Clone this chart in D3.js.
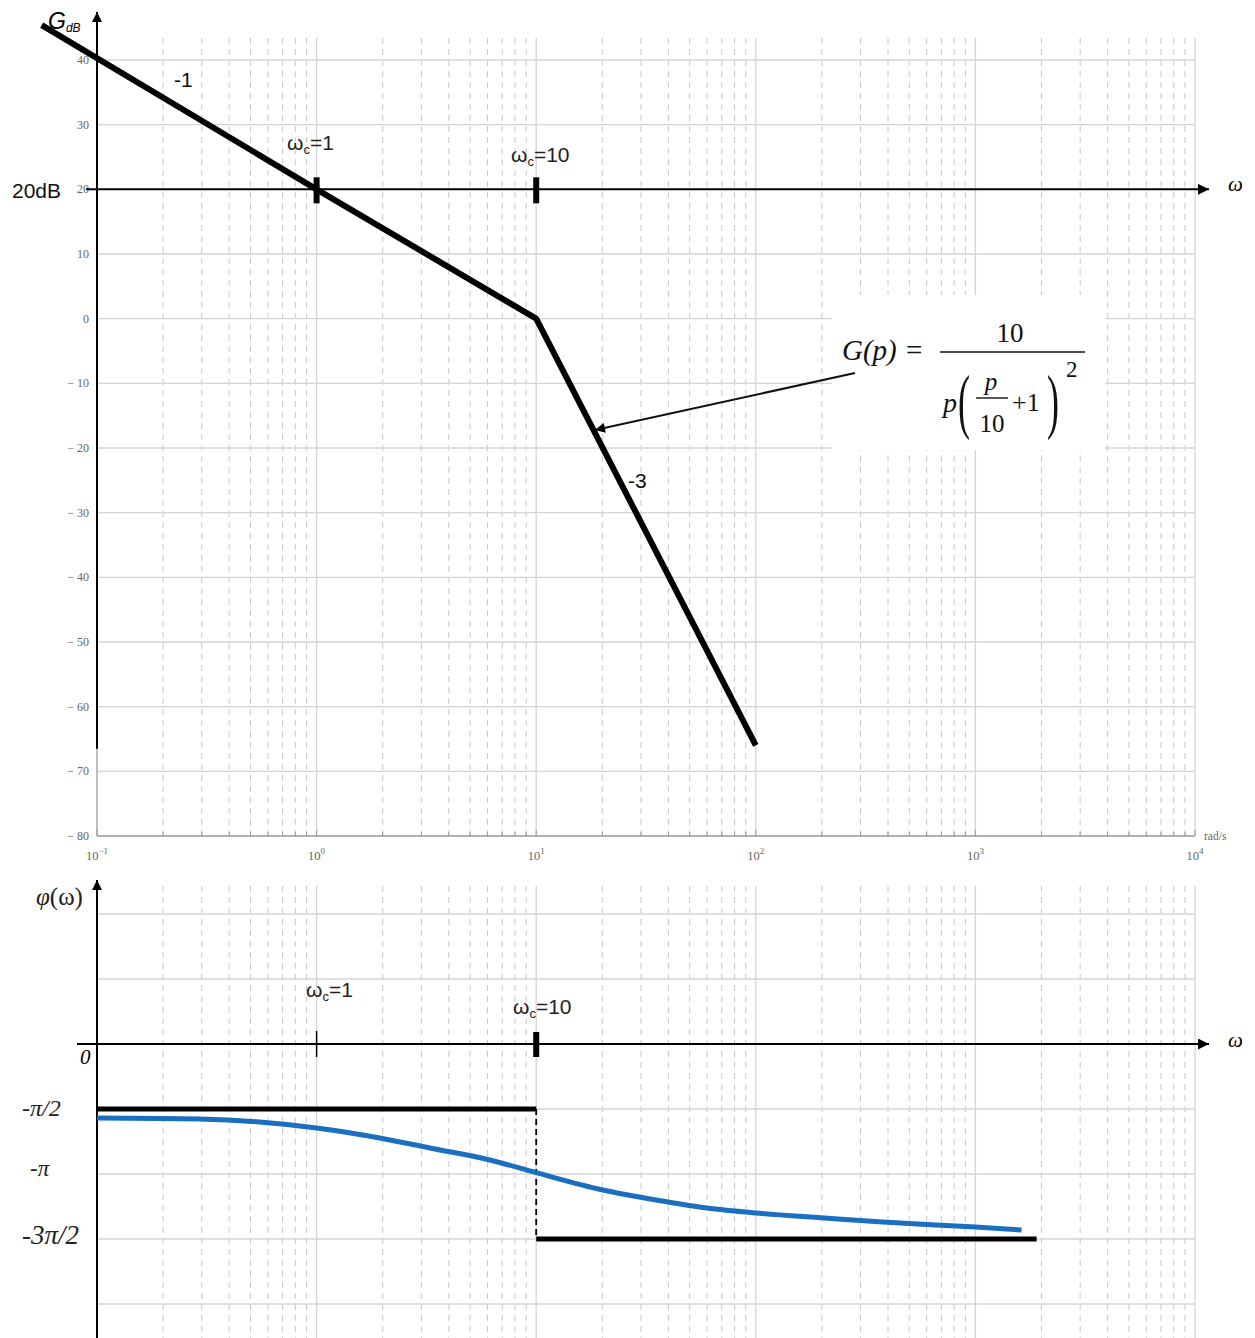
<!DOCTYPE html>
<html><head><meta charset="utf-8">
<script src="https://cdn.jsdelivr.net/npm/d3@7"></script>
<style>body{margin:0;background:#fff}svg{display:block}</style>
</head><body>
<script>
// ---- data ----
const magOmega = [0.056, 1, 10, 100];
const magDb = [45.4, 20, 0, -66];
const magTicks = [40, 30, 20, 10, 0, -10, -20, -30, -40, -50, -60, -70, -80];
const xTickExps = [-1, 0, 1, 2, 3, 4];
const cornerOmega = [1, 10];
const cornerLabels = ["1", "10"];
const slopeLabels = ["-1", "-3"];
const phaseTickVals = [-0.5, -1, -1.5];          // units of π
const phaseTickLabels = ["-π/2", "-π", "-3π/2"];
const phaseGrid = [1, 0.5, 0, -0.5, -1, -1.5, -2];
const asymOmegaHi = [0.1, 10];
const asymOmegaLo = [10, 1900];
const asymPhaseHi = -0.5;
const asymPhaseLo = -1.5;
const blueOmega = [0.1, 0.294, 0.55, 1, 1.94, 3.28, 6.15, 10, 20.1, 31.2, 59.8, 100, 206, 378, 1000, 1622];
const bluePhase = [-0.569, -0.577, -0.6, -0.646, -0.723, -0.8, -0.892, -0.99, -1.123, -1.185, -1.262, -1.3, -1.338, -1.369, -1.408, -1.431];

const W = 1255, H = 1338;
const svg = d3.select("body").append("svg").attr("width", W).attr("height", H);
const defs = svg.append("defs");
defs.append("marker").attr("id", "ah").attr("viewBox", "0 0 10 10").attr("refX", 10).attr("refY", 5)
  .attr("markerWidth", 12).attr("markerHeight", 10).attr("markerUnits", "userSpaceOnUse").attr("orient", "auto")
  .append("path").attr("d", "M0,0 L10,5 L0,10 Z").attr("fill", "#000");
defs.append("marker").attr("id", "ah2").attr("viewBox", "0 0 10 10").attr("refX", 10).attr("refY", 5)
  .attr("markerWidth", 14).attr("markerHeight", 11).attr("markerUnits", "userSpaceOnUse").attr("orient", "auto")
  .append("path").attr("d", "M0,0 L10,5 L0,10 Z").attr("fill", "#000");

const x = d3.scaleLog().domain([0.1, 1e4]).range([97, 1195]);
const yM = d3.scaleLinear().domain([-80, 40]).range([836, 60]);
const yP = d3.scaleLinear().domain([-2, 0]).range([1304, 1044]);

const allTicks = x.ticks();
const isDecade = v => Math.abs(Math.log10(v) - Math.round(Math.log10(v))) < 1e-9;
const gridCol = "#d4d4d4", dashCol = "#c8c8c8";
const ff = "'Liberation Serif', 'Times New Roman', serif";
const sf = "'Liberation Sans', sans-serif";

// ---------- magnitude grid ----------
const gM = svg.append("g");
const magTop = 38;
gM.selectAll("line.v").data(allTicks).join("line")
  .attr("x1", d => x(d)).attr("x2", d => x(d)).attr("y1", magTop).attr("y2", yM(-80))
  .attr("stroke", d => isDecade(d) ? gridCol : dashCol).attr("stroke-width", d => isDecade(d) ? 1.3 : 1)
  .attr("stroke-dasharray", d => isDecade(d) ? null : "6,5");
gM.selectAll("line.h").data(magTicks).join("line")
  .attr("x1", x(0.1)).attr("x2", x(1e4)).attr("y1", d => yM(d)).attr("y2", d => yM(d))
  .attr("stroke", d => d === -80 ? "#999" : gridCol).attr("stroke-width", 1.3);
gM.selectAll("line.t").data(allTicks).join("line")
  .attr("x1", d => x(d)).attr("x2", d => x(d)).attr("y1", yM(-80)).attr("y2", d => yM(-80) - (isDecade(d) ? 6 : 4))
  .attr("stroke", "#999");
gM.append("line").attr("x1", x(0.1)).attr("x2", x(0.1)).attr("y1", magTop).attr("y2", yM(-80)).attr("stroke", "#999");
// y tick labels
gM.selectAll("text.yt").data(magTicks).join("text")
  .attr("x", 89).attr("y", d => yM(d) + 4).attr("text-anchor", "end")
  .attr("font-family", ff).attr("font-size", 12).attr("fill", "#666")
  .text(d => d < 0 ? "− " + Math.abs(d) : d);
// x tick labels
const xt = gM.selectAll("text.xt").data(xTickExps).join("text")
  .attr("x", d => x(Math.pow(10, d))).attr("y", 860).attr("text-anchor", "middle")
  .attr("font-family", ff).attr("font-size", 12.5).attr("fill", "#666");
xt.append("tspan").text("10");
xt.append("tspan").attr("dy", -6).attr("font-size", 9).text(d => d < 0 ? "−1" : d);
gM.append("text").attr("x", 1204).attr("y", 840).attr("font-family", ff)
  .attr("font-size", 11.5).attr("fill", "#666").text("rad/s");

// axes (black)
gM.append("line").attr("x1", x(0.1)).attr("x2", x(0.1)).attr("y1", yM(-66.5)).attr("y2", 12)
  .attr("stroke", "#000").attr("stroke-width", 2).attr("marker-end", "url(#ah)");
gM.append("line").attr("x1", 86).attr("x2", 1209).attr("y1", yM(20)).attr("y2", yM(20))
  .attr("stroke", "#000").attr("stroke-width", 2).attr("marker-end", "url(#ah2)");
gM.append("text").attr("x", 12).attr("y", 198).attr("font-family", sf)
  .attr("font-size", 21).attr("fill", "#111").text("20dB");
gM.append("text").attr("x", 1228).attr("y", 191).attr("font-family", ff)
  .attr("font-style", "italic").attr("font-size", 21).text("ω");
const gl = gM.append("text").attr("x", 48).attr("y", 29).attr("font-family", sf)
  .attr("font-style", "italic").attr("font-size", 23);
gl.append("tspan").text("G");
gl.append("tspan").attr("font-size", 12).attr("dy", 3).text("dB");

// formula box (white)
gM.append("rect").attr("x", 832).attr("y", 295).attr("width", 273).attr("height", 155).attr("fill", "#fff");

// magnitude line
const line = d3.line().x(d => x(d[0])).y(d => yM(d[1]));
gM.append("path").datum(magOmega.map((w, i) => [w, magDb[i]]))
  .attr("d", line).attr("fill", "none").attr("stroke", "#000").attr("stroke-width", 6).attr("stroke-linejoin", "round");

// corner ticks on dB axis
gM.selectAll("rect.ct").data(cornerOmega).join("rect")
  .attr("x", d => x(d) - 3).attr("y", yM(20) - 12).attr("width", 6).attr("height", 26).attr("fill", "#000");
const clab = gM.selectAll("text.cl").data(cornerOmega).join("text")
  .attr("x", (d, i) => i === 0 ? 287 : 511).attr("y", (d, i) => i === 0 ? 150 : 162)
  .attr("font-family", sf).attr("font-size", 21).attr("fill", "#222");
clab.append("tspan").text("ω");
clab.append("tspan").attr("font-size", 13).attr("dy", 4).text("c");
clab.append("tspan").attr("dy", -4).text((d, i) => "=" + cornerLabels[i]);

// slope labels
gM.selectAll("text.sl").data(slopeLabels).join("text")
  .attr("x", (d, i) => i === 0 ? 174 : 628).attr("y", (d, i) => i === 0 ? 87 : 488)
  .attr("font-family", sf).attr("font-size", 21).attr("fill", "#111").text(d => d);

// formula
const fg = gM.append("g").attr("font-family", ff).attr("fill", "#111");
fg.append("text").attr("x", 842).attr("y", 360).attr("font-size", 29).attr("font-style", "italic").text("G(p)");
fg.append("text").attr("x", 906).attr("y", 360).attr("font-size", 29).text("=");
fg.append("line").attr("x1", 940).attr("x2", 1085).attr("y1", 352).attr("y2", 352).attr("stroke", "#111").attr("stroke-width", 1.6);
fg.append("text").attr("x", 1010).attr("y", 342).attr("font-size", 27).attr("text-anchor", "middle").text("10");
fg.append("text").attr("x", 943).attr("y", 412).attr("font-size", 28).attr("font-style", "italic").text("p");
fg.append("text").attr("transform", "translate(958,425) scale(1,2)").attr("font-size", 36).text("(");
fg.append("text").attr("x", 991).attr("y", 390).attr("font-size", 25).attr("font-style", "italic").attr("text-anchor", "middle").text("p");
fg.append("line").attr("x1", 976).attr("x2", 1008).attr("y1", 398).attr("y2", 398).attr("stroke", "#111").attr("stroke-width", 1.4);
fg.append("text").attr("x", 992).attr("y", 432).attr("font-size", 25).attr("text-anchor", "middle").text("10");
fg.append("text").attr("x", 1012).attr("y", 411).attr("font-size", 26).text("+1");
fg.append("text").attr("transform", "translate(1047,425) scale(1,2)").attr("font-size", 36).text(")");
fg.append("text").attr("x", 1066).attr("y", 377).attr("font-size", 23).text("2");
// annotation arrow
gM.append("line").attr("x1", 855).attr("y1", 373).attr("x2", 595).attr("y2", 430)
  .attr("stroke", "#111").attr("stroke-width", 2).attr("marker-end", "url(#ah)");

// ---------- phase plot ----------
const gP = svg.append("g");
const phTop = 886;
gP.selectAll("line.v").data(allTicks).join("line")
  .attr("x1", d => x(d)).attr("x2", d => x(d)).attr("y1", phTop).attr("y2", H)
  .attr("stroke", d => isDecade(d) ? gridCol : dashCol).attr("stroke-width", d => isDecade(d) ? 1.3 : 1)
  .attr("stroke-dasharray", d => isDecade(d) ? null : "6,5");
gP.selectAll("line.h").data(phaseGrid).join("line")
  .attr("x1", x(0.1)).attr("x2", x(1e4)).attr("y1", d => yP(d)).attr("y2", d => yP(d))
  .attr("stroke", gridCol).attr("stroke-width", 1.5);

// axes
gP.append("line").attr("x1", x(0.1)).attr("x2", x(0.1)).attr("y1", H).attr("y2", 880)
  .attr("stroke", "#000").attr("stroke-width", 2).attr("marker-end", "url(#ah)");
gP.append("line").attr("x1", 77).attr("x2", 1209).attr("y1", yP(0)).attr("y2", yP(0))
  .attr("stroke", "#000").attr("stroke-width", 2).attr("marker-end", "url(#ah2)");
gP.append("text").attr("x", 1228).attr("y", 1047).attr("font-family", ff)
  .attr("font-style", "italic").attr("font-size", 21).text("ω");
const pl = gP.append("text").attr("x", 36).attr("y", 905).attr("font-family", ff).attr("font-size", 25).attr("fill", "#222");
pl.append("tspan").attr("font-style", "italic").text("φ");
pl.append("tspan").text("(ω)");
gP.append("text").attr("x", 80).attr("y", 1064).attr("font-family", ff).attr("font-style", "italic")
  .attr("font-size", 21).text("0");
gP.selectAll("text.pt").data(phaseTickVals).join("text")
  .attr("x", (d, i) => [22, 30, 22][i]).attr("y", (d, i) => yP(d) + [7, 2, 5][i])
  .attr("font-family", ff).attr("font-style", "italic")
  .attr("font-size", (d, i) => [24, 23, 27][i]).attr("fill", "#222").text((d, i) => phaseTickLabels[i]);

// corner ticks on phase axis
gP.append("line").attr("x1", x(cornerOmega[0])).attr("x2", x(cornerOmega[0])).attr("y1", yP(0) - 13).attr("y2", yP(0) + 13)
  .attr("stroke", "#000").attr("stroke-width", 1.5);
gP.append("rect").attr("x", x(cornerOmega[1]) - 3).attr("y", yP(0) - 12).attr("width", 6).attr("height", 25).attr("fill", "#000");
const plab = gP.selectAll("text.cl").data(cornerOmega).join("text")
  .attr("x", (d, i) => i === 0 ? 306 : 513).attr("y", (d, i) => i === 0 ? 997 : 1014)
  .attr("font-family", sf).attr("font-size", 21).attr("fill", "#222");
plab.append("tspan").text("ω");
plab.append("tspan").attr("font-size", 13).attr("dy", 4).text("c");
plab.append("tspan").attr("dy", -4).text((d, i) => "=" + cornerLabels[i]);

// asymptotes
gP.append("line").attr("x1", x(asymOmegaHi[0])).attr("x2", x(asymOmegaHi[1])).attr("y1", yP(asymPhaseHi)).attr("y2", yP(asymPhaseHi))
  .attr("stroke", "#000").attr("stroke-width", 5);
gP.append("line").attr("x1", x(asymOmegaLo[0])).attr("x2", x(asymOmegaLo[1])).attr("y1", yP(asymPhaseLo)).attr("y2", yP(asymPhaseLo))
  .attr("stroke", "#000").attr("stroke-width", 5);
gP.append("line").attr("x1", x(10)).attr("x2", x(10)).attr("y1", yP(asymPhaseHi)).attr("y2", yP(asymPhaseLo))
  .attr("stroke", "#000").attr("stroke-width", 1.8).attr("stroke-dasharray", "6,4");

// blue phase curve
const pline = d3.line().x(d => x(d[0])).y(d => yP(d[1])).curve(d3.curveMonotoneX);
gP.append("path").datum(blueOmega.map((w, i) => [w, bluePhase[i]]))
  .attr("d", pline).attr("fill", "none").attr("stroke", "#1b6fc0").attr("stroke-width", 5);
</script>
</body></html>
